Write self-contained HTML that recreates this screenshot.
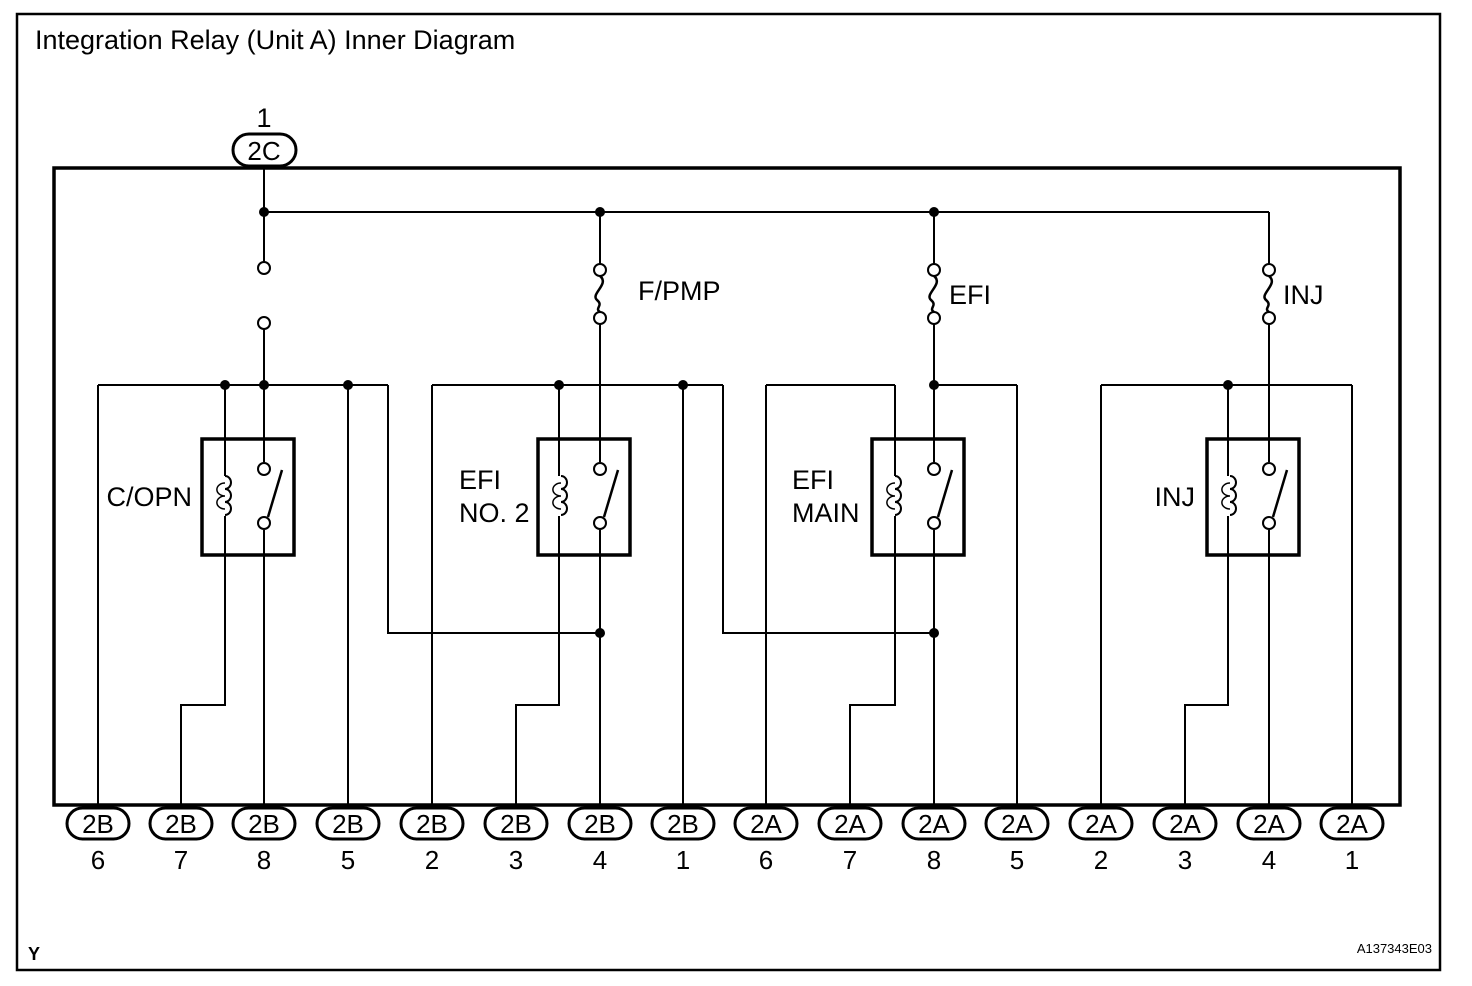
<!DOCTYPE html><html><head><style>body{margin:0;background:#fff}svg{display:block}text{font-family:"Liberation Sans",sans-serif;fill:#000}</style></head><body>
<svg width="1472" height="986" viewBox="0 0 1472 986" xmlns="http://www.w3.org/2000/svg">
<rect x="17" y="14" width="1423" height="956" fill="none" stroke="#000" stroke-width="2.5"/>
<text x="35" y="49" font-size="27">Integration Relay (Unit A) Inner Diagram</text>
<text x="28" y="960" font-size="18" font-weight="bold">Y</text>
<text x="1432" y="953" font-size="13" text-anchor="end">A137343E03</text>
<rect x="54" y="168" width="1346" height="637" fill="none" stroke="#000" stroke-width="3.5"/>
<g stroke="#000" stroke-width="2" fill="none">
<line x1="264" y1="166" x2="264" y2="262"/>
<line x1="264" y1="212" x2="1269" y2="212"/>
<line x1="1269" y1="212" x2="1269" y2="264"/>
<line x1="600" y1="212" x2="600" y2="264"/>
<line x1="934" y1="212" x2="934" y2="264"/>
<circle cx="264" cy="268" r="6"/><circle cx="264" cy="323" r="6"/>
<line x1="264" y1="329" x2="264" y2="462"/>
<g id="f"><circle cx="600" cy="270" r="6"/><circle cx="600" cy="318" r="6"/><path d="M600 276 C610 284 590 294 597 300 C604 306 594 308 600 312" stroke-width="2.5"/></g>
<use href="#f" x="334" y="0"/><use href="#f" x="669" y="0"/>
<line x1="600" y1="324" x2="600" y2="462"/><line x1="934" y1="324" x2="934" y2="462"/><line x1="1269" y1="324" x2="1269" y2="462"/>
<line x1="98" y1="385" x2="388" y2="385"/>
<line x1="432" y1="385" x2="723" y2="385"/>
<line x1="766" y1="385" x2="895" y2="385"/>
<line x1="934" y1="385" x2="1017" y2="385"/>
<line x1="1101" y1="385" x2="1352" y2="385"/>
<line x1="98" y1="385" x2="98" y2="805"/><line x1="348" y1="385" x2="348" y2="805"/>
<line x1="432" y1="385" x2="432" y2="805"/><line x1="683" y1="385" x2="683" y2="805"/>
<line x1="766" y1="385" x2="766" y2="805"/><line x1="1017" y1="385" x2="1017" y2="805"/>
<line x1="1101" y1="385" x2="1101" y2="805"/><line x1="1352" y1="385" x2="1352" y2="805"/>
<polyline points="388,385 388,633 600,633"/>
<polyline points="723,385 723,633 934,633"/>
<polyline points="225,385 225,476"/><polyline points="225,516 225,705 181,705 181,805"/>
<polyline points="559,385 559,476"/><polyline points="559,516 559,705 516,705 516,805"/>
<polyline points="895,385 895,476"/><polyline points="895,516 895,705 850,705 850,805"/>
<polyline points="1228,385 1228,476"/><polyline points="1228,516 1228,705 1185,705 1185,805"/>
<line x1="264" y1="530" x2="264" y2="805"/><line x1="600" y1="530" x2="600" y2="805"/>
<line x1="934" y1="530" x2="934" y2="805"/><line x1="1269" y1="530" x2="1269" y2="805"/>
</g>
<g id="r" stroke="#000" fill="none">
<rect x="202" y="439" width="92" height="116" stroke-width="3.5"/>
<path d="M225 476 a6 6.5 0 0 1 0 13 a6 6.5 0 0 1 0 13 a6 6.5 0 0 1 0 13" stroke-width="2"/>
<path d="M225 483 a5 4 0 0 0 0 13 M225 496 a5 4 0 0 0 0 13" stroke-width="1.5"/>
<circle cx="264" cy="469" r="6" stroke-width="2" fill="#fff"/><circle cx="264" cy="523" r="6" stroke-width="2" fill="#fff"/>
<line x1="268" y1="517" x2="282" y2="470" stroke-width="2.5"/>
</g>
<use href="#r" x="336"/><use href="#r" x="670"/><use href="#r" x="1005"/>
<g fill="#000">
<circle cx="264" cy="212" r="5"/><circle cx="600" cy="212" r="5"/><circle cx="934" cy="212" r="5"/>
<circle cx="225" cy="385" r="5"/><circle cx="264" cy="385" r="5"/><circle cx="348" cy="385" r="5"/>
<circle cx="559" cy="385" r="5"/><circle cx="683" cy="385" r="5"/>
<circle cx="934" cy="385" r="5"/><circle cx="1228" cy="385" r="5"/>
<circle cx="600" cy="633" r="5"/><circle cx="934" cy="633" r="5"/>
</g>
<g font-size="27">
<text x="638" y="300">F/PMP</text><text x="949" y="304">EFI</text><text x="1283" y="304">INJ</text>
<text x="192" y="506" text-anchor="end">C/OPN</text>
<text x="459" y="489">EFI</text><text x="459" y="522">NO. 2</text>
<text x="792" y="489">EFI</text><text x="792" y="522">MAIN</text>
<text x="1195" y="506" text-anchor="end">INJ</text>
<text x="264" y="127" text-anchor="middle">1</text>
</g>
<g stroke="#000" stroke-width="3" fill="#fff">
<rect x="233" y="134" width="63" height="32" rx="16"/>
</g>
<text x="264" y="160" font-size="26" text-anchor="middle">2C</text>
<g stroke="#000" stroke-width="3" fill="#fff">
<rect x="67" y="808" width="62" height="31" rx="15.5"/><rect x="150" y="808" width="62" height="31" rx="15.5"/><rect x="233" y="808" width="62" height="31" rx="15.5"/><rect x="317" y="808" width="62" height="31" rx="15.5"/>
<rect x="401" y="808" width="62" height="31" rx="15.5"/><rect x="485" y="808" width="62" height="31" rx="15.5"/><rect x="569" y="808" width="62" height="31" rx="15.5"/><rect x="652" y="808" width="62" height="31" rx="15.5"/>
<rect x="735" y="808" width="62" height="31" rx="15.5"/><rect x="819" y="808" width="62" height="31" rx="15.5"/><rect x="903" y="808" width="62" height="31" rx="15.5"/><rect x="986" y="808" width="62" height="31" rx="15.5"/>
<rect x="1070" y="808" width="62" height="31" rx="15.5"/><rect x="1154" y="808" width="62" height="31" rx="15.5"/><rect x="1238" y="808" width="62" height="31" rx="15.5"/><rect x="1321" y="808" width="62" height="31" rx="15.5"/>
</g>
<g font-size="26" text-anchor="middle">
<text x="98" y="833">2B</text><text x="181" y="833">2B</text><text x="264" y="833">2B</text><text x="348" y="833">2B</text>
<text x="432" y="833">2B</text><text x="516" y="833">2B</text><text x="600" y="833">2B</text><text x="683" y="833">2B</text>
<text x="766" y="833">2A</text><text x="850" y="833">2A</text><text x="934" y="833">2A</text><text x="1017" y="833">2A</text>
<text x="1101" y="833">2A</text><text x="1185" y="833">2A</text><text x="1269" y="833">2A</text><text x="1352" y="833">2A</text>
<text x="98" y="869">6</text><text x="181" y="869">7</text><text x="264" y="869">8</text><text x="348" y="869">5</text>
<text x="432" y="869">2</text><text x="516" y="869">3</text><text x="600" y="869">4</text><text x="683" y="869">1</text>
<text x="766" y="869">6</text><text x="850" y="869">7</text><text x="934" y="869">8</text><text x="1017" y="869">5</text>
<text x="1101" y="869">2</text><text x="1185" y="869">3</text><text x="1269" y="869">4</text><text x="1352" y="869">1</text>
</g>
</svg></body></html>
